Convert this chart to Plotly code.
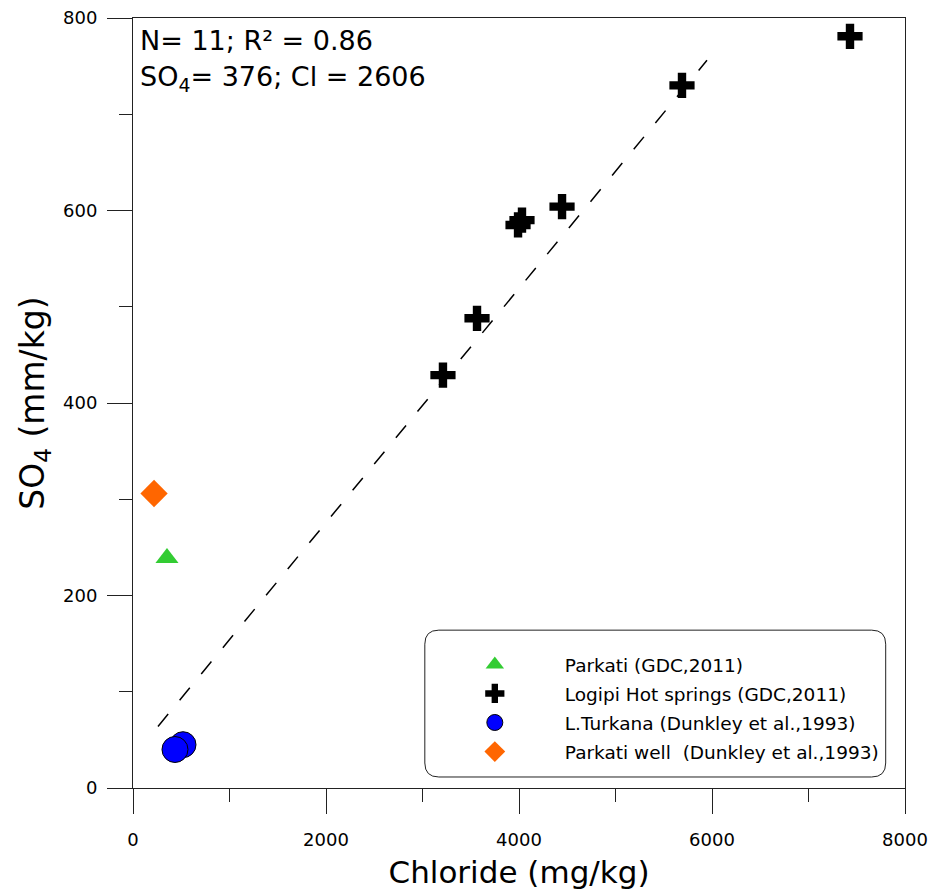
import plotly.graph_objects as go

# ---- data ----
parkati_cl = [352]
parkati_so4 = [239]

logipi_cl = [7430, 5689, 4446, 4031, 3990, 3565, 3212]
logipi_so4 = [781, 730, 604, 590, 585, 488, 429]

turkana_cl = [518, 435]
turkana_so4 = [45, 40]

well_cl = [218]
well_so4 = [306]

fit_cl = [259, 5948]
fit_so4 = [64, 756]

x_ticks = [0, 2000, 4000, 6000, 8000]
y_ticks = [0, 200, 400, 600, 800]

names = ["Parkati (GDC,2011)",
         "Logipi Hot springs (GDC,2011)",
         "L.Turkana (Dunkley et al.,1993)",
         "Parkati well\u00a0\u00a0(Dunkley et al.,1993)"]

FONT = "DejaVu Sans"

fig = go.Figure()

fig.add_trace(go.Scatter(x=fit_cl, y=fit_so4, mode="lines",
                         line=dict(color="black", width=1.5, dash="16px,18px"),
                         showlegend=False, hoverinfo="skip"))

fig.add_trace(go.Scatter(x=parkati_cl, y=parkati_so4, mode="markers", name=names[0],
                         legendgroup="a",
                         marker=dict(symbol="triangle-up", size=20, color="#33CC33",
                                     line=dict(width=0))))
fig.add_trace(go.Scatter(x=logipi_cl, y=logipi_so4, mode="markers", name=names[1],
                         legendgroup="b",
                         marker=dict(symbol="cross", size=21, color="black",
                                     line=dict(width=0))))
fig.add_trace(go.Scatter(x=turkana_cl, y=turkana_so4, mode="markers", name=names[2],
                         legendgroup="c",
                         marker=dict(symbol="circle", size=26, color="#0000FF",
                                     line=dict(width=1, color="black"))))
fig.add_trace(go.Scatter(x=well_cl, y=well_so4, mode="markers", name=names[3],
                         legendgroup="d",
                         marker=dict(symbol="diamond", size=21, color="#FF6600",
                                     line=dict(width=0))))

axis_common = dict(showline=True, linecolor="#222", linewidth=1, mirror=True,
                   ticks="outside", ticklen=25, tickwidth=1, tickcolor="#222",
                   showgrid=False, zeroline=False, ticklabeloverflow="allow",
                   tickfont=dict(family=FONT, size=18, color="black"))

fig.update_xaxes(range=[0, 8000], tickmode="array", tickvals=x_ticks,
                 minor=dict(ticks="outside", ticklen=13, dtick=1000, tick0=0,
                            tickcolor="#222", tickwidth=1, showgrid=False),
                 ticklabelstandoff=10,
                 title=dict(text="Chloride (mg/kg)", standoff=12,
                            font=dict(family=FONT, size=31, color="black")),
                 **axis_common)
fig.update_yaxes(range=[0, 800], tickmode="array", tickvals=y_ticks,
                 minor=dict(ticks="outside", ticklen=13, dtick=100, tick0=0,
                            tickcolor="#222", tickwidth=1, showgrid=False),
                 ticklabelstandoff=6,
                 title=dict(text="SO<sub>4</sub> (mm/kg)", standoff=8,
                            font=dict(family=FONT, size=33, color="black")),
                 **axis_common)

# rounded legend frame (paper coordinates)
x0, x1, y0, y1 = 0.378, 0.975, 0.0143, 0.205
rx, ry = 14 / 772, 14 / 770
path = (f"M{x0+rx},{y0} L{x1-rx},{y0} Q{x1},{y0} {x1},{y0+ry} "
        f"L{x1},{y1-ry} Q{x1},{y1} {x1-rx},{y1} L{x0+rx},{y1} "
        f"Q{x0},{y1} {x0},{y1-ry} L{x0},{y0+ry} Q{x0},{y0} {x0+rx},{y0} Z")
fig.add_shape(type="path", path=path, xref="paper", yref="paper",
              line=dict(color="#222", width=1), fillcolor="rgba(0,0,0,0)")

fig.add_annotation(text="N= 11; R² = 0.86", xref="paper", yref="paper",
                   x=0.006, y=(788 - 40) / 770, xanchor="left", yanchor="middle",
                   showarrow=False, font=dict(family=FONT, size=27, color="black"))
fig.add_annotation(text="SO<sub>4</sub>= 376; Cl = 2606", xref="paper", yref="paper",
                   x=0.006, y=(788 - 78) / 770, xanchor="left", yanchor="middle",
                   showarrow=False, font=dict(family=FONT, size=27, color="black"))

fig.update_layout(
    width=933, height=892,
    margin=dict(l=133, r=28, t=18, b=104, autoexpand=False),
    paper_bgcolor="white", plot_bgcolor="white",
    font=dict(family=FONT, color="black"),
    legend=dict(x=0.378, y=0.1846, xanchor="left", yanchor="top",
                bgcolor="rgba(0,0,0,0)", borderwidth=0,
                itemwidth=130, traceorder="grouped", tracegroupgap=2,
                font=dict(family=FONT, size=18.5, color="black")),
)

# remove the page's default 8px body margin so the figure fills the window exactly
fig.write_html("out.html",
               config={"displayModeBar": False},
               post_script="document.body.style.margin='0';"
                           "document.body.style.overflow='hidden';")
